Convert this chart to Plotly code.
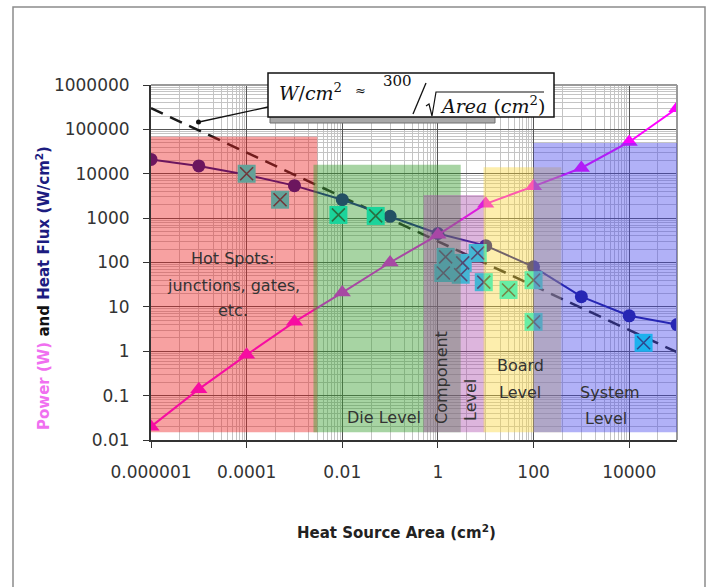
import plotly.graph_objects as go

# Heat flux (W/cm^2) versus heat source area (cm^2)
flux_area = [1e-6, 1e-5, 1e-4, 1e-3, 1e-2, 1e-1, 1, 10, 100, 1e3, 1e4, 1e5]
flux_vals = [21000, 15000, 9500, 5400, 2600, 1100, 450, 240, 80, 17, 6.3, 4]

# Power (W) versus heat source area (cm^2)
power_area = [1e-6, 1e-5, 1e-4, 1e-3, 1e-2, 1e-1, 1, 10, 100, 1e3, 1e4, 1e5]
power_vals = [0.02, 0.14, 0.83, 4.6, 21, 100, 420, 2100, 5200, 13500, 52000, 300000]

# Reported device heat fluxes
dev_area = [1e-4, 5e-4, 0.0083, 0.05, 1.45, 3.3, 6.8, 1.3, 3.0, 9.1, 30, 100, 100, 20000]
dev_flux = [10000, 2600, 1180, 1120, 134, 98, 164, 58, 53, 36, 24, 40, 4.6, 1.55]

# Trend line W/cm^2 ~ 300 / sqrt(Area), end points
trend_area = [1e-6, 1e5]
trend_flux = [300000, 0.95]

# Packaging-level regions (area span, flux span)
band_names = ["Hot Spots", "Die Level", "Component Level", "Board Level", "System Level"]
band_x0 = [1e-6, 0.0025, 0.5, 9, 100]
band_x1 = [0.003, 3, 9.5, 380, 1e5]
band_y0 = [0.015, 0.015, 0.015, 0.015, 0.015]
band_y1 = [68000, 16000, 3300, 14000, 49000]
band_colors = ["rgba(235,30,30,0.42)", "rgba(60,160,50,0.45)",
               "rgba(170,70,170,0.40)", "rgba(250,215,60,0.42)",
               "rgba(70,70,235,0.42)"]

# Axis ticks
x_tickvals = [1e-6, 1e-4, 1e-2, 1, 100, 1e4]
x_ticktext = ["0.000001", "0.0001", "0.01", "1", "100", "10000"]
y_tickvals = [0.01, 0.1, 1, 10, 100, 1000, 10000, 100000, 1000000]
y_ticktext = ["0.01", "0.1", "1", "10", "100", "1000", "10000", "100000", "1000000"]

# Minor grid positions
x_minor = []
for e in range(-6, 5, 2):
    base = 10.0 ** e
    x_minor += [base * k for k in (4, 10, 20, 30, 40, 50, 60, 70, 80, 90)]
y_minor = [k * 10.0 ** e for e in range(-2, 6) for k in range(2, 10)]

# Page geometry (pixels) of the plotting area
W, H = 709, 587
PL, PR, PT, PB = 151, 677, 85, 440


def px(x):
    return (x - PL) / (PR - PL)


def py(y):
    return (PB - y) / (PB - PT)


fig = go.Figure()

fig.add_trace(go.Scatter(
    x=trend_area, y=trend_flux, mode="lines",
    line=dict(color="#1a1a1a", width=2.5, dash="13px,8px"),
    hoverinfo="skip", showlegend=False))

fig.add_trace(go.Scatter(
    x=flux_area, y=flux_vals, mode="lines+markers",
    line=dict(color="#10108c", width=2),
    marker=dict(symbol="circle", size=13, color="#10108c"),
    name="Heat Flux", showlegend=False))

fig.add_trace(go.Scatter(
    x=power_area, y=power_vals, mode="lines+markers",
    line=dict(color="#ff00ff", width=2),
    marker=dict(symbol="triangle-up", size=15, color="#ff00ff"),
    name="Power", showlegend=False))

fig.add_trace(go.Scatter(
    x=dev_area, y=dev_flux, mode="markers",
    marker=dict(symbol="square", size=18, color="#00fff0", line=dict(width=0)),
    name="Devices", showlegend=False))
fig.add_trace(go.Scatter(
    x=dev_area, y=dev_flux, mode="markers",
    marker=dict(symbol="x-thin-open", size=13, color="#1a4a4e",
                line=dict(width=1.6, color="#1a4a4e")),
    hoverinfo="skip", showlegend=False))

shapes = []
# outer frame
shapes.append(dict(type="rect", xref="paper", yref="paper",
                   x0=px(13), x1=px(705), y0=py(600), y1=py(7),
                   line=dict(color="#8c8c8c", width=1.5), layer="below"))
# top / right border of the plotting area
shapes.append(dict(type="line", xref="paper", yref="paper",
                   x0=0, x1=1, y0=1, y1=1, line=dict(color="#9a9a9a", width=2)))
shapes.append(dict(type="line", xref="paper", yref="paper",
                   x0=1, x1=1, y0=0, y1=1, line=dict(color="#9a9a9a", width=2)))
# translucent region bands over the data
for x0, x1, y0, y1, c in zip(band_x0, band_x1, band_y0, band_y1, band_colors):
    shapes.append(dict(type="rect", xref="x", yref="y", x0=x0, x1=x1, y0=y0, y1=y1,
                       fillcolor=c, line=dict(width=0), layer="above"))
# pointer from the formula box to the trend line
shapes.append(dict(type="line", xref="paper", yref="paper",
                   x0=px(268), x1=px(199), y0=py(107), y1=py(122),
                   line=dict(color="#111", width=1.3), layer="above"))
shapes.append(dict(type="circle", xref="paper", yref="paper",
                   x0=px(196), x1=px(201), y0=py(124.5), y1=py(119.5),
                   fillcolor="#111", line=dict(width=0), layer="above"))
# formula box with its shadow
shapes.append(dict(type="rect", xref="paper", yref="paper",
                   x0=px(270), x1=px(495), y0=py(123), y1=py(112),
                   fillcolor="#a8a8a8", line=dict(color="#707070", width=1), layer="above"))
shapes.append(dict(type="rect", xref="paper", yref="paper",
                   x0=px(268), x1=px(554), y0=py(117), y1=py(73),
                   fillcolor="white", line=dict(color="#111", width=1.5), layer="above"))
# fraction slash and radical bar of the formula
shapes.append(dict(type="line", xref="paper", yref="paper",
                   x0=px(413), x1=px(426), y0=py(114), y1=py(83),
                   line=dict(color="#111", width=1.3), layer="above"))
shapes.append(dict(type="path", xref="paper", yref="paper",
                   path="M {:.5f},{:.5f} L {:.5f},{:.5f} L {:.5f},{:.5f} L {:.5f},{:.5f} L {:.5f},{:.5f}".format(
                       px(426), py(106), px(429), py(104), px(432), py(116),
                       px(436), py(92), px(544), py(92)),
                   line=dict(color="#111", width=1.2), layer="above"))

band_font = dict(family="DejaVu Sans", size=16, color="#333333")
ann = []


def label(text, x, y, angle=0, font=band_font, xanchor="center"):
    ann.append(dict(text=text, xref="paper", yref="paper", x=px(x), y=py(y),
                    xanchor=xanchor, yanchor="middle", showarrow=False,
                    textangle=angle, font=font))


label("Hot Spots:", 232, 258)
label("junctions, gates,", 233, 285)
label("etc.", 233, 310)
label("Die Level", 384, 417)
label("Component", 441, 378, angle=-90)
label("Level", 470, 400, angle=-90)
label("Board", 520, 365)
label("Level", 520, 392)
label("System", 610, 392)
label("Level", 606, 418)

# axis titles
label("<b>Heat Source Area (cm<sup>2</sup>)</b>", 396, 532,
      font=dict(family="DejaVu Sans", size=15, color="#222"))
label("<b><span style='color:#f070f0'>Power (W)</span> and "
      "<span style='color:#1c1c80'>Heat Flux (W/cm<sup>2</sup>)</span></b>",
      43, 288, angle=-90, font=dict(family="DejaVu Sans", size=15, color="#111"))

# formula text
serif_i = dict(family="DejaVu Serif", size=19, color="#111")
label("<i>W</i>/<i>cm</i><sup>2</sup>", 277, 92, font=serif_i, xanchor="left")
label("≈", 360, 90, font=dict(family="DejaVu Serif", size=13, color="#111"))
label("300", 397, 81, font=dict(family="DejaVu Serif", size=15, color="#111"))
label("<i>Area</i> (<i>cm</i><sup>2</sup>)", 438, 105, font=serif_i, xanchor="left")

tick_font = dict(family="DejaVu Sans", size=17, color="#333333")

fig.update_layout(
    width=W, height=H,
    margin=dict(l=PL, r=W - PR, t=PT, b=H - PB, pad=0),
    paper_bgcolor="white", plot_bgcolor="white",
    shapes=shapes, annotations=ann,
    xaxis=dict(type="log", range=[-6, 5], tickmode="array",
               tickvals=x_tickvals, ticktext=x_ticktext,
               showgrid=True, gridcolor="#555555", gridwidth=1,
               minor=dict(tickmode="array", tickvals=x_minor, showgrid=True,
                          gridcolor="#c4c4c4", gridwidth=1),
               showline=True, linecolor="#333333", linewidth=2,
               ticks="outside", ticklen=6, tickcolor="#333333",
               tickfont=tick_font, ticklabelstandoff=10, zeroline=False),
    yaxis=dict(type="log", range=[-2, 6], tickmode="array",
               tickvals=y_tickvals, ticktext=y_ticktext,
               showgrid=True, gridcolor="#555555", gridwidth=1,
               minor=dict(tickmode="array", tickvals=y_minor, showgrid=True,
                          gridcolor="#c4c4c4", gridwidth=1),
               showline=True, linecolor="#333333", linewidth=2,
               ticks="outside", ticklen=6, tickcolor="#333333",
               tickfont=tick_font, ticklabelstandoff=10, zeroline=False),
)

fig.write_html("out.html")
